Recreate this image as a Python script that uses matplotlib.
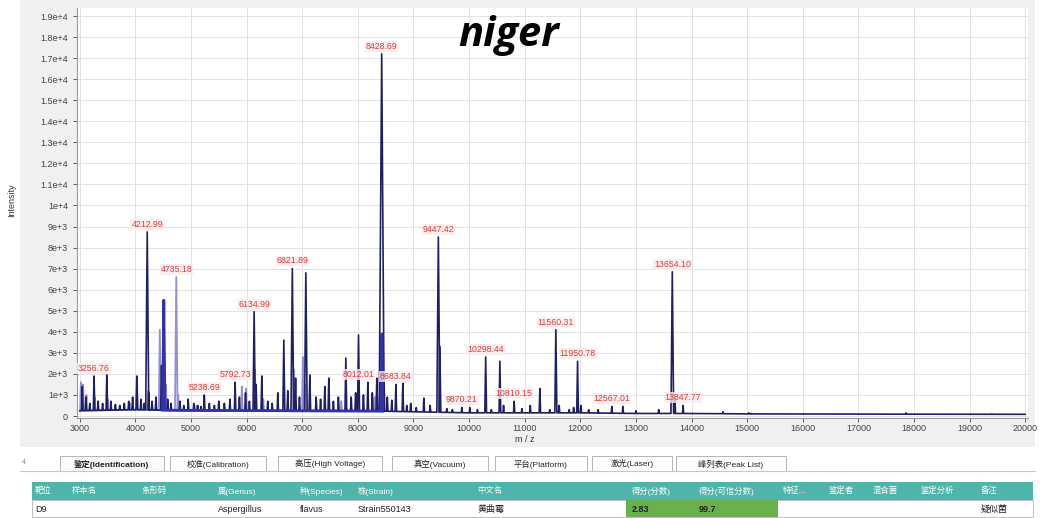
import numpy as np
import matplotlib.pyplot as plt
from matplotlib.patches import Rectangle

plt.rcParams['font.family'] = ['Liberation Sans', 'Noto Sans CJK SC', 'DejaVu Sans']

# main (navy) spectrum peaks, m/z and intensity
navy_mz = [3045, 3110, 3180, 3256.76, 3330, 3410, 3486, 3560, 3640, 3720, 3800, 3880, 3950,
           4025, 4100, 4160, 4212.99, 4240, 4300, 4370, 4470, 4580, 4640, 4800, 4870, 4950,
           5050, 5120, 5180, 5238.69, 5330, 5420, 5500, 5600, 5700, 5792.73, 5870, 5980, 6050,
           6134.99, 6170, 6273, 6380, 6460, 6561, 6669, 6740, 6821.89, 6880, 6950, 7065, 7137,
           7250, 7330, 7406, 7478, 7560, 7650, 7784, 7880, 7960, 8012.01, 8100, 8180, 8260,
           8341, 8428.69, 8470, 8530, 8611, 8683.84, 8809, 8880, 8950, 9050, 9187, 9300,
           9447.42, 9475, 9600, 9700, 9870.21, 10014, 10150, 10298.44, 10400, 10554, 10620,
           10810.15, 10950, 11100, 11273, 11450, 11560.31, 11620, 11800, 11880, 11950.78,
           12010, 12150, 12320, 12567.01, 12766, 13000, 13410, 13654.10, 13700, 13847.77,
           14565, 15030, 15080, 16100, 17856, 19400]
navy_int = [1400, 900, 600, 1900, 700, 600, 1950, 700, 550, 500, 600, 700, 900,
            1900, 800, 600, 8740, 1100, 700, 900, 2400, 800, 600, 700, 500, 800,
            600, 500, 450, 1000, 600, 500, 700, 600, 800, 1600, 900, 1100, 700,
            4950, 1500, 1900, 700, 600, 1100, 3600, 1200, 7000, 1800, 900, 6800, 1950,
            900, 800, 1400, 1800, 700, 900, 2750, 900, 1100, 3850, 1000, 1600, 1100,
            1800, 17200, 1700, 900, 750, 1500, 1550, 500, 600, 400, 850, 500,
            8500, 3300, 350, 300, 400, 400, 300, 2800, 300, 2600, 500,
            700, 350, 500, 1300, 300, 4100, 500, 300, 400, 2600,
            500, 300, 300, 450, 450, 250, 300, 6850, 900, 500,
            200, 150, 120, 100, 150, 100]

# overlaid light spectrum
lav_mz = [3020, 3060, 3120, 3270, 3500, 3900, 4030, 4230, 4439, 4550, 4735.18, 4770, 5100,
          5914, 5990, 6150, 6300, 6850, 7011, 7050, 7700, 8012.01, 8300, 8460]
lav_int = [1600, 1500, 1000, 900, 800, 600, 1700, 1200, 4100, 1500, 6600, 1000, 500,
           1400, 1300, 2200, 800, 2200, 2800, 1500, 700, 1600, 900, 1800]

blue_mz = [4511, 8430]
blue_int = [5500, 3900]

base_mz = [3000, 4000, 5000, 6000, 7000, 8000, 9000, 10000, 11000, 12000, 13000, 14000, 15000, 17000, 20000]
base_int = [250, 300, 250, 250, 250, 250, 200, 150, 150, 150, 120, 120, 100, 90, 80]

label_mz = [3256.76, 4212.99, 4735.18, 5238.69, 5792.73, 6134.99, 6821.89, 8012.01, 8428.69,
            8683.84, 9447.42, 9870.21, 10298.44, 10810.15, 11560.31, 11950.78, 12567.01,
            13654.10, 13847.77]
label_txt = ['3256.76', '4212.99', '4735.18', '5238.69', '5792.73', '6134.99', '6821.89', '8012.01',
             '8428.69', '8683.84', '9447.42', '9870.21', '10298.44', '10810.15', '11560.31',
             '11950.78', '12567.01', '13654.10', '13847.77']

y_ticks = list(range(0, 20000, 1000))
y_tick_labels = ['0', '1e+3', '2e+3', '3e+3', '4e+3', '5e+3', '6e+3', '7e+3', '8e+3', '9e+3',
                 '1e+4', '1.1e+4', '1.2e+4', '1.3e+4', '1.4e+4', '1.5e+4', '1.6e+4', '1.7e+4',
                 '1.8e+4', '1.9e+4']
x_ticks = list(range(3000, 20001, 1000))

tab_labels = ['鉴定(Identification)', '校准(Calibration)', '高压(High Voltage)', '真空(Vacuum)',
              '平台(Platform)', '激光(Laser)', '峰列表(Peak List)']
headers = ['靶位', '样本名', '条形码', '属(Genus)', '种(Species)', '株(Strain)', '中文名',
           '得分(分数)', '得分(可信分数)', '特征...', '鉴定者', '混合菌', '鉴定分析', '备注']
row = ['D9', '', '', 'Aspergillus', 'flavus', 'Strain550143', '黄曲霉',
       '2.83', '99.7', '', '', '', '', '疑似菌']


def spectrum(mz, inten, full=True):
    xs, ys = [], []
    if full:
        xs, ys = [base_mz[0]], [base_int[0]]
    for i in np.argsort(mz):
        b = np.interp(mz[i], base_mz, base_int)
        w = 10 + inten[i] / 1000 * 2
        xs += [mz[i] - w, mz[i], mz[i] + w]
        ys += [b, inten[i], b]
    if full:
        xs.append(base_mz[-1])
        ys.append(base_int[-1])
    return xs, ys


fig = plt.figure(figsize=(10.48, 5.18), dpi=100)

# screen chrome drawn in pixel coordinates
bg = fig.add_axes([0, 0, 1, 1], zorder=0)
bg.set_xlim(0, 1048)
bg.set_ylim(518, 0)
bg.axis('off')
bg.add_patch(Rectangle((20, 0), 1015, 447, color='#f0f0f0', lw=0))

ax = fig.add_axes([77 / 1048, 1 - 418 / 518, 951 / 1048, 410 / 518], zorder=1)
ax.set_xlim(2950, 20050)
ax.set_ylim(-95, 19380)

x, y = spectrum(lav_mz, lav_int, full=False)
ax.plot(x, y, color='#8585d8', lw=1.3, alpha=0.9, zorder=2)
x, y = spectrum(navy_mz, navy_int)
ax.plot(x, y, color='#1f1f66', lw=1.2, zorder=3)
x, y = spectrum(blue_mz, blue_int, full=False)
ax.plot(x, y, color='#3333a8', lw=2.0, zorder=4)

heights = dict(zip(navy_mz, navy_int))
heights.update(dict(zip(lav_mz, lav_int)))
for m, t in zip(label_mz, label_txt):
    ax.text(m, heights[m] + 150, t, color='#e23b3b', fontsize=6.3, ha='center', va='bottom',
            zorder=5, bbox=dict(facecolor='#fdecec', edgecolor='none', pad=0.6, alpha=0.8))

ax.set_xticks(x_ticks)
ax.set_xticklabels([str(v) for v in x_ticks])
ax.set_yticks(y_ticks)
ax.set_yticklabels(y_tick_labels)
ax.tick_params(labelsize=6.5, colors='#444444', length=3, width=0.6)
ax.tick_params(axis='x', pad=1.5)
ax.grid(True, color='#e3e3e3', lw=0.7)
ax.set_axisbelow(True)
for s in ['top', 'right']:
    ax.spines[s].set_visible(False)
for s in ['left', 'bottom']:
    ax.spines[s].set_color('#999999')
    ax.spines[s].set_linewidth(0.8)

fig.text(12 / 1048, 1 - 200 / 518, 'Intensity', rotation=90, fontsize=6.5, color='#333333',
         ha='center', va='center')
fig.text(525 / 1048, 1 - 439 / 518, 'm / z', fontsize=6.5, color='#333333', ha='center', va='center')
fig.text(509 / 1048, 1 - 35 / 518, 'niger', fontsize=30, fontweight='bold', style='italic',
         family='Open Sans', ha='center', va='center', zorder=10)

# tab strip
tab_x = [60, 170, 278, 392, 495, 592, 676]
tab_w = [104, 96, 104, 96, 92, 80, 110]
bg.text(22, 463, '4', fontsize=5, color='#888888', va='center')
bg.plot([20, 1035], [471, 471], color='#c8c8c8', lw=0.8)
for i, (t, x0, w) in enumerate(zip(tab_labels, tab_x, tab_w)):
    bg.add_patch(Rectangle((x0, 456), w, 15, facecolor='white' if i else '#fafafa',
                           edgecolor='#b5b5b5', lw=0.7))
    bg.text(x0 + w / 2, 464, t, fontsize=6, ha='center', va='center',
            color='#222222', fontweight='bold' if i == 0 else 'normal')

# results table
col_x = [33, 70, 140, 216, 298, 356, 475, 630, 697, 781, 827, 871, 919, 979]
bg.add_patch(Rectangle((32, 482), 1001, 18, color='#4fb5aa', lw=0))
bg.add_patch(Rectangle((32, 500), 1001, 17, facecolor='white', edgecolor='#c0c0c0', lw=0.7))
bg.add_patch(Rectangle((626, 500), 70, 17, color='#6ab04c', lw=0))
bg.add_patch(Rectangle((696, 500), 82, 17, color='#6ab04c', lw=0))
for h, cx in zip(headers, col_x):
    bg.text(cx + 2, 491, h, fontsize=6, color='white', va='center')
for r, cx in zip(row, col_x):
    bg.text(cx + 2, 509, r, fontsize=6.5, color='#222222', va='center',
            fontweight='bold' if r in ('2.83', '99.7') else 'normal')

fig.savefig('out.png', dpi=100)
